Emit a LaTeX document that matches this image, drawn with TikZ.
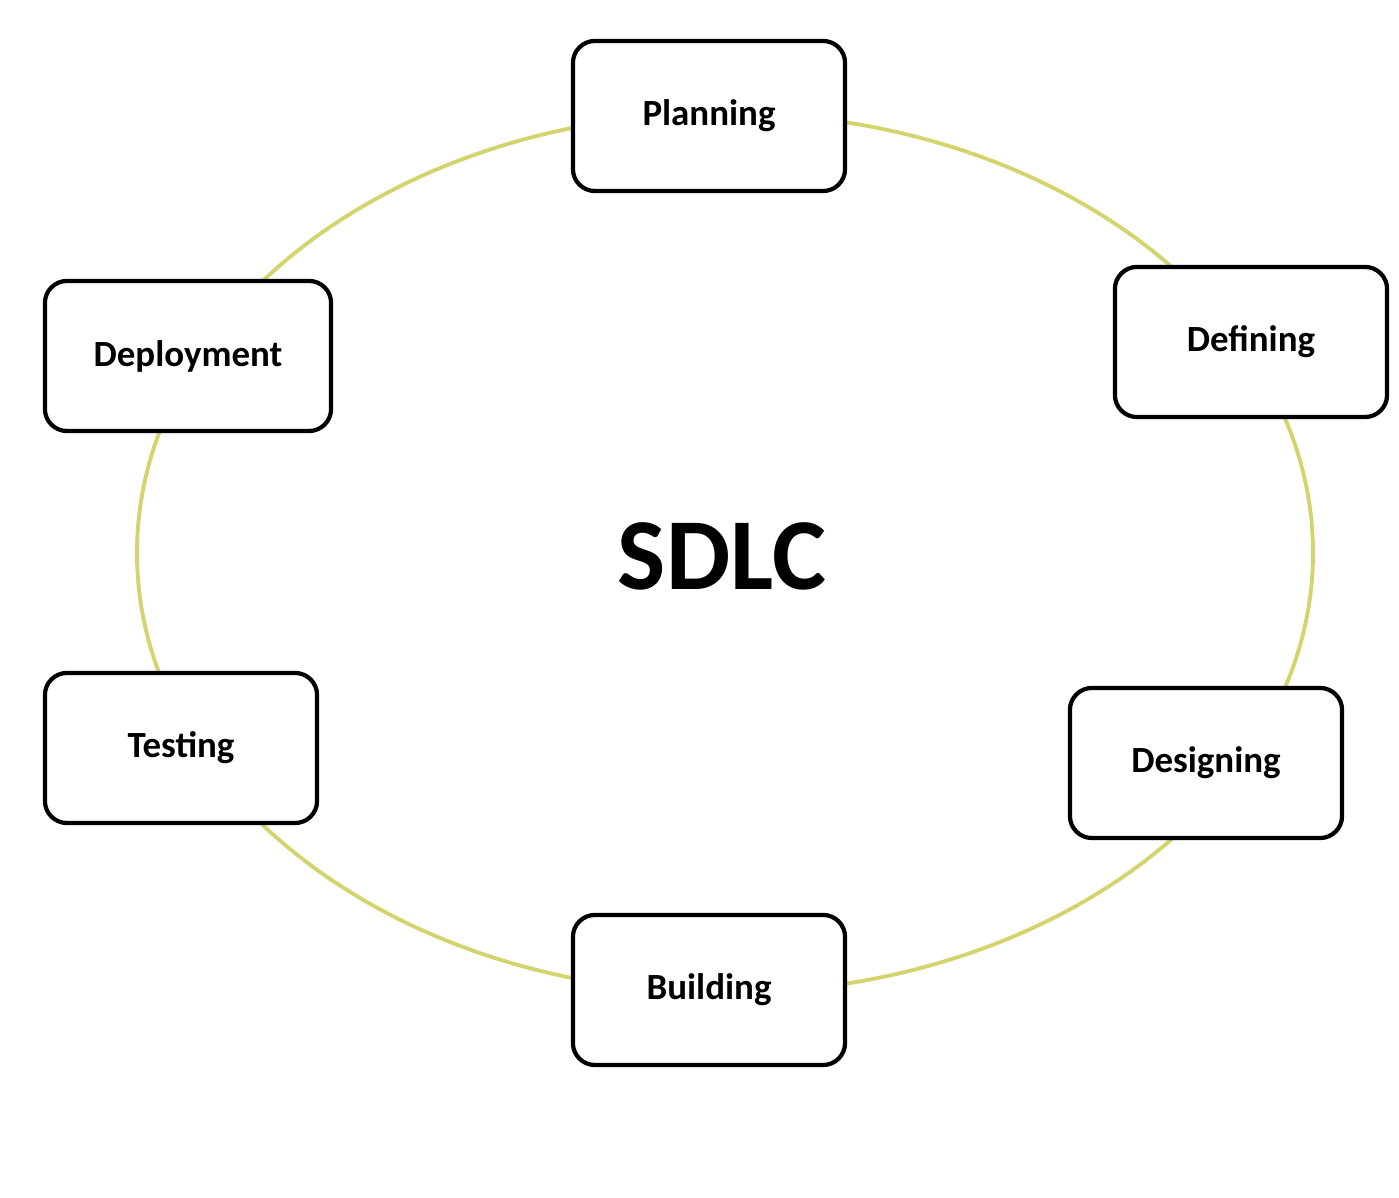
\documentclass[tikz,border=0pt]{standalone}
\usepackage{fontspec}
\setmainfont{Carlito}
\definecolor{ring}{RGB}{212,212,110}
\begin{document}
\begin{tikzpicture}[x=0.01cm,y=-0.01cm,
  phase/.style={draw=black,line width=1.2pt,rounded corners=0.22cm,fill=white,
    minimum width=2.72cm,minimum height=1.5cm,font=\bfseries\fontsize{10.5}{12}\selectfont}]
\useasboundingbox (0,0) rectangle (1399,1198);
\draw[ring,line width=1.1pt] (725,553) ellipse [x radius=588, y radius=440];
\node[phase] (plan) at (709,116) {Planning};
\node[phase] (def) at (1251,342) {Defining};
\node[phase] (des) at (1206,763) {Designing};
\node[phase] (bui) at (709,990) {Building};
\node[phase] (tes) at (181,748) {Testing};
\node[phase,minimum width=2.86cm] (dep) at (188,356) {Deployment};
\node[font=\bfseries\fontsize{29}{34}\selectfont] (sdlc) at (722,556) {SDLC};
\end{tikzpicture}
\end{document}
